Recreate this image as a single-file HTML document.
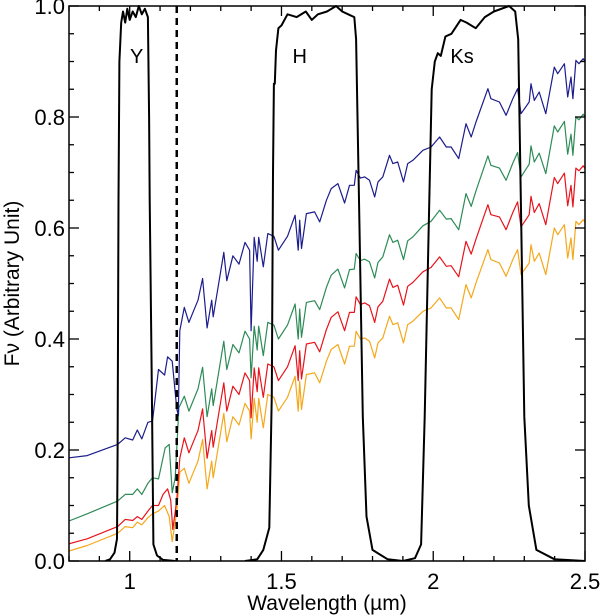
<!DOCTYPE html>
<html><head><meta charset="utf-8"><style>
html,body{margin:0;padding:0;background:#fff;width:600px;height:616px;overflow:hidden}
svg{display:block;font-family:"Liberation Sans",sans-serif}
</style></head><body>
<svg id="chart" width="600" height="616" viewBox="0 0 600 616"></svg>
<script>
const xTicks=[1,1.5,2,2.5];
const xTickLabels=["1","1.5","2","2.5"];
const yTicks=[0,0.2,0.4,0.6,0.8,1.0];
const yTickLabels=["0.0","0.2","0.4","0.6","0.8","1.0"];
const dashedLine=1.155;
const filterNames=["Y","H","Ks"];
const filterLabelX=[1.023,1.56,2.095];
const filterLabelY=[0.91,0.91,0.91];
const filterY=[[0.92,0],[0.935,0.003],[0.95,0.015],[0.958,0.04],[0.96,0.2],[0.962,0.5],[0.963,0.65],[0.966,0.9],[0.972,0.97],[0.978,0.99],[0.985,0.97],[0.992,0.995],[1.0,0.975],[1.01,0.99],[1.02,0.98],[1.03,1.0],[1.04,0.985],[1.05,0.995],[1.06,0.98],[1.064,0.8],[1.066,0.65],[1.072,0.35],[1.078,0.03],[1.09,0.01],[1.11,0.002],[1.15,0]];
const filterH=[[1.38,0],[1.42,0.003],[1.44,0.02],[1.46,0.06],[1.468,0.3],[1.472,0.7],[1.475,0.86],[1.478,0.86],[1.482,0.92],[1.49,0.96],[1.5,0.965],[1.52,0.985],[1.55,0.98],[1.58,0.99],[1.6,0.975],[1.62,0.985],[1.65,0.99],[1.68,1.0],[1.7,0.99],[1.72,0.985],[1.74,0.98],[1.746,0.94],[1.757,0.6],[1.768,0.26],[1.78,0.08],[1.8,0.02],[1.85,0.003],[1.9,0]];
const filterKs=[[1.9,0],[1.94,0.005],[1.96,0.03],[1.972,0.26],[1.985,0.6],[1.995,0.85],[2.005,0.9],[2.015,0.915],[2.025,0.91],[2.04,0.945],[2.06,0.95],[2.09,0.975],[2.11,0.97],[2.14,0.96],[2.17,0.98],[2.2,0.99],[2.25,1.0],[2.27,0.99],[2.28,0.94],[2.29,0.6],[2.3,0.26],[2.315,0.1],[2.34,0.02],[2.4,0.003],[2.5,0]];
const blue=[[0.8,0.186],[0.86,0.19],[0.96,0.21],[0.985,0.222],[1.01,0.218],[1.025,0.236],[1.04,0.22],[1.06,0.25],[1.075,0.252],[1.095,0.345],[1.115,0.335],[1.125,0.368],[1.14,0.36],[1.155,0.274],[1.16,0.262],[1.165,0.415],[1.18,0.457],[1.195,0.43],[1.21,0.45],[1.225,0.47],[1.24,0.509],[1.255,0.42],[1.27,0.47],[1.275,0.44],[1.31,0.556],[1.32,0.505],[1.34,0.55],[1.36,0.535],[1.38,0.574],[1.395,0.56],[1.40,0.415],[1.41,0.583],[1.42,0.54],[1.425,0.583],[1.44,0.53],[1.455,0.59],[1.475,0.585],[1.49,0.56],[1.52,0.585],[1.545,0.623],[1.555,0.56],[1.56,0.614],[1.566,0.563],[1.582,0.626],[1.609,0.629],[1.626,0.611],[1.648,0.65],[1.664,0.671],[1.686,0.68],[1.708,0.645],[1.724,0.677],[1.74,0.677],[1.746,0.704],[1.76,0.69],[1.774,0.692],[1.79,0.686],[1.807,0.656],[1.818,0.683],[1.834,0.692],[1.856,0.731],[1.867,0.716],[1.883,0.719],[1.902,0.683],[1.916,0.716],[1.933,0.722],[1.966,0.74],[1.993,0.746],[2.021,0.764],[2.043,0.746],[2.059,0.746],[2.084,0.725],[2.108,0.788],[2.125,0.764],[2.141,0.791],[2.18,0.851],[2.19,0.833],[2.218,0.827],[2.24,0.803],[2.262,0.833],[2.278,0.851],[2.289,0.806],[2.316,0.827],[2.322,0.86],[2.333,0.83],[2.349,0.845],[2.371,0.806],[2.399,0.89],[2.41,0.878],[2.432,0.896],[2.443,0.836],[2.454,0.872],[2.46,0.833],[2.47,0.902],[2.48,0.896],[2.494,0.905],[2.5,0.9]];
const green=[[0.8,0.072],[0.86,0.085],[0.96,0.108],[0.985,0.12],[1.01,0.12],[1.025,0.13],[1.04,0.12],[1.06,0.14],[1.075,0.15],[1.095,0.148],[1.117,0.204],[1.13,0.21],[1.14,0.123],[1.15,0.15],[1.162,0.276],[1.18,0.297],[1.195,0.27],[1.21,0.29],[1.225,0.31],[1.24,0.349],[1.255,0.26],[1.27,0.31],[1.275,0.28],[1.31,0.396],[1.32,0.345],[1.34,0.39],[1.36,0.375],[1.38,0.414],[1.395,0.40],[1.40,0.33],[1.41,0.423],[1.42,0.38],[1.425,0.423],[1.44,0.37],[1.455,0.43],[1.475,0.425],[1.49,0.40],[1.52,0.425],[1.545,0.463],[1.555,0.40],[1.56,0.454],[1.566,0.403],[1.582,0.466],[1.609,0.469],[1.626,0.453],[1.648,0.493],[1.664,0.515],[1.686,0.526],[1.708,0.492],[1.724,0.525],[1.74,0.526],[1.746,0.554],[1.76,0.541],[1.774,0.544],[1.79,0.539],[1.807,0.51],[1.818,0.538],[1.834,0.548],[1.856,0.588],[1.867,0.574],[1.883,0.578],[1.902,0.543],[1.916,0.577],[1.933,0.584],[1.966,0.604],[1.993,0.612],[2.021,0.632],[2.043,0.616],[2.059,0.617],[2.084,0.597],[2.108,0.662],[2.125,0.639],[2.141,0.667],[2.18,0.73],[2.19,0.713],[2.218,0.708],[2.24,0.686],[2.262,0.717],[2.278,0.736],[2.289,0.692],[2.316,0.715],[2.322,0.748],[2.333,0.719],[2.349,0.735],[2.371,0.698],[2.399,0.784],[2.41,0.773],[2.432,0.792],[2.443,0.733],[2.454,0.769],[2.46,0.731],[2.47,0.80],[2.48,0.795],[2.494,0.805],[2.5,0.80]];
const red=[[0.8,0.031],[0.86,0.04],[0.96,0.062],[0.985,0.075],[1.01,0.073],[1.025,0.08],[1.04,0.075],[1.06,0.09],[1.075,0.10],[1.095,0.1],[1.11,0.12],[1.125,0.13],[1.135,0.11],[1.142,0.057],[1.155,0.11],[1.165,0.185],[1.18,0.222],[1.195,0.195],[1.21,0.215],[1.225,0.235],[1.24,0.274],[1.255,0.185],[1.27,0.235],[1.275,0.205],[1.31,0.321],[1.32,0.27],[1.34,0.315],[1.36,0.30],[1.38,0.339],[1.395,0.325],[1.40,0.258],[1.41,0.348],[1.42,0.305],[1.425,0.348],[1.44,0.295],[1.455,0.355],[1.475,0.35],[1.49,0.325],[1.52,0.35],[1.545,0.388],[1.555,0.325],[1.56,0.379],[1.566,0.328],[1.582,0.391],[1.609,0.394],[1.626,0.377],[1.648,0.417],[1.664,0.439],[1.686,0.449],[1.708,0.415],[1.724,0.448],[1.74,0.448],[1.746,0.476],[1.76,0.462],[1.774,0.465],[1.79,0.46],[1.807,0.43],[1.818,0.458],[1.834,0.468],[1.856,0.508],[1.867,0.493],[1.883,0.497],[1.902,0.461],[1.916,0.495],[1.933,0.502],[1.966,0.521],[1.993,0.529],[2.021,0.548],[2.043,0.531],[2.059,0.532],[2.084,0.512],[2.108,0.576],[2.125,0.553],[2.141,0.58],[2.18,0.642],[2.19,0.624],[2.218,0.62],[2.24,0.597],[2.262,0.628],[2.278,0.647],[2.289,0.602],[2.316,0.624],[2.322,0.657],[2.333,0.628],[2.349,0.644],[2.371,0.606],[2.399,0.691],[2.41,0.68],[2.432,0.699],[2.443,0.64],[2.454,0.677],[2.46,0.638],[2.47,0.708],[2.48,0.703],[2.494,0.712],[2.5,0.707]];
const orange=[[0.8,0.018],[0.86,0.028],[0.96,0.05],[0.985,0.062],[1.01,0.06],[1.025,0.07],[1.04,0.065],[1.06,0.078],[1.075,0.085],[1.095,0.09],[1.115,0.1],[1.13,0.08],[1.14,0.035],[1.155,0.09],[1.165,0.16],[1.18,0.167],[1.195,0.14],[1.21,0.16],[1.225,0.18],[1.24,0.219],[1.255,0.13],[1.27,0.18],[1.275,0.15],[1.31,0.266],[1.32,0.215],[1.34,0.26],[1.36,0.245],[1.38,0.284],[1.395,0.27],[1.40,0.22],[1.41,0.293],[1.42,0.25],[1.425,0.293],[1.44,0.24],[1.455,0.30],[1.475,0.295],[1.49,0.27],[1.52,0.295],[1.545,0.333],[1.555,0.27],[1.56,0.324],[1.566,0.273],[1.582,0.336],[1.609,0.339],[1.626,0.321],[1.648,0.36],[1.664,0.381],[1.686,0.39],[1.708,0.355],[1.724,0.387],[1.74,0.387],[1.746,0.414],[1.76,0.40],[1.774,0.402],[1.79,0.396],[1.807,0.366],[1.818,0.393],[1.834,0.402],[1.856,0.441],[1.867,0.426],[1.883,0.429],[1.902,0.393],[1.916,0.426],[1.933,0.432],[1.966,0.45],[1.993,0.456],[2.021,0.474],[2.043,0.456],[2.059,0.456],[2.084,0.435],[2.108,0.498],[2.125,0.474],[2.141,0.501],[2.18,0.561],[2.19,0.543],[2.218,0.537],[2.24,0.513],[2.262,0.543],[2.278,0.561],[2.289,0.516],[2.316,0.537],[2.322,0.57],[2.333,0.54],[2.349,0.555],[2.371,0.516],[2.399,0.60],[2.41,0.588],[2.432,0.606],[2.443,0.546],[2.454,0.582],[2.46,0.543],[2.47,0.612],[2.48,0.606],[2.494,0.615],[2.5,0.61]];

const L=69,R=585,T=6,B=561,X0=0.8,X1=2.5,Y0=0,Y1=1;
const sx=v=>L+(v-X0)/(X1-X0)*(R-L);
const sy=v=>B-(v-Y0)/(Y1-Y0)*(B-T);
const NS="http://www.w3.org/2000/svg";
const svg=document.getElementById('chart');
function mk(tag,attrs,parent){const e=document.createElementNS(NS,tag);for(const k in attrs)e.setAttribute(k,attrs[k]);(parent||svg).appendChild(e);return e;}
const clip=mk('clipPath',{id:'pc'});mk('rect',{x:L,y:T-3,width:R-L,height:B-T+3},clip);
const plot=mk('g',{'clip-path':'url(#pc)'});
function line(data,color,w,name){
  const p=mk('path',{d:data.map((d,i)=>(i?'L':'M')+sx(d[0]).toFixed(1)+','+sy(d[1]).toFixed(1)).join(''),fill:'none',stroke:color,'stroke-width':w,'stroke-linejoin':'round'},plot);
  
  
}
line(orange,'#f5a81c',1.2,'series-orange');
line(red,'#e8141c',1.2,'series-red');
line(green,'#2e8b57',1.2,'series-green');
line(blue,'#1c1c8c',1.2,'series-blue');
line(filterY,'#000',2,'filter-y-curve');
line(filterH,'#000',2,'filter-h-curve');
line(filterKs,'#000',2,'filter-ks-curve');
const dl=mk('line',{x1:sx(dashedLine),x2:sx(dashedLine),y1:T,y2:B,stroke:'#000','stroke-width':2.5,'stroke-dasharray':'7,5'},plot);


filterNames.forEach((n,i)=>{const t=mk('text',{x:sx(filterLabelX[i]),y:sy(filterLabelY[i])+7,'font-size':20,'text-anchor':'middle'});t.textContent=n;

});
const fr=mk('rect',{x:L,y:T,width:R-L,height:B-T,fill:'none',stroke:'#000','stroke-width':1.5});


for(let v=0.8;v<=2.5001;v+=0.1){const x=sx(v);const major=Math.abs(v*2-Math.round(v*2))<1e-6;const len=major?10:5;
mk('line',{x1:x,x2:x,y1:B,y2:B-len,stroke:'#000','stroke-width':1.3});mk('line',{x1:x,x2:x,y1:T,y2:T+len,stroke:'#000','stroke-width':1.3});}
xTicks.forEach((v,i)=>{const t=mk('text',{x:sx(v),y:589,'font-size':22,'text-anchor':'middle'});t.textContent=xTickLabels[i];

});
for(let v=0;v<=1.0001;v+=0.05){const y=sy(v);const major=Math.abs(v*5-Math.round(v*5))<1e-6;const len=major?10:5;
mk('line',{x1:L,x2:L+len,y1:y,y2:y,stroke:'#000','stroke-width':1.3});mk('line',{x1:R,x2:R-len,y1:y,y2:y,stroke:'#000','stroke-width':1.3});}
yTicks.forEach((v,i)=>{const t=mk('text',{x:L-4,y:sy(v)+8,'font-size':22,'text-anchor':'end'});t.textContent=yTickLabels[i];

});
const xt=mk('text',{x:327,y:610,'font-size':21,'text-anchor':'middle'});xt.textContent='Wavelength (µm)';


const yt=mk('text',{x:0,y:0,'font-size':21,'text-anchor':'middle',transform:'translate(19,'+((T+B)/2)+') rotate(-90)'});yt.textContent='Fν (Arbitrary Unit)';


</script>
</body></html>
